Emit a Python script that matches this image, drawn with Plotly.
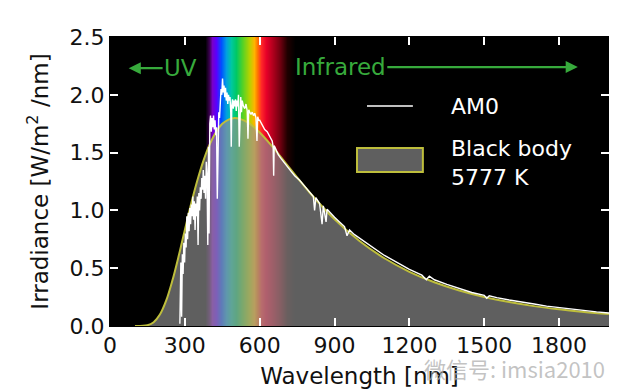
import plotly.graph_objects as go

# ---------------- data ----------------
bb_nm = [100, 150, 175, 200, 225, 250, 275, 300, 325, 350, 375, 400, 425, 450, 475,
         500, 550, 600, 650, 700, 750, 800, 900, 1000, 1100, 1200, 1300, 1400, 1500,
         1600, 1700, 1800, 1900, 2000]
bb_irr = [0.0, 0.007, 0.033, 0.099, 0.219, 0.393, 0.603, 0.831, 1.055, 1.258, 1.433,
          1.573, 1.677, 1.749, 1.786, 1.80, 1.764, 1.674, 1.553, 1.42, 1.285, 1.155,
          0.923, 0.735, 0.586, 0.469, 0.378, 0.307, 0.251, 0.207, 0.172, 0.144, 0.121,
          0.103]

am0_nm = [280, 284, 287, 290, 293, 296, 299, 302, 305, 308, 311, 314, 317, 320, 323,
          326, 329, 332, 335, 338, 341, 344, 347, 350, 353, 356, 359, 362, 365, 368,
          371, 374, 377, 380, 383, 386, 389, 392, 395, 397, 400, 403, 406, 409, 412,
          415, 418, 421, 424, 427, 430, 433, 436, 439, 442, 445, 448, 451, 454, 457,
          460, 463, 466, 469, 472, 475, 478, 481, 484, 486, 488, 491, 494, 497, 500,
          503, 506, 509, 512, 515, 518, 521, 524, 527, 530, 535, 540, 545, 550, 553,
          556, 560, 565, 570, 575, 580, 585, 589, 592, 596, 600, 610, 620, 630, 640,
          650, 654, 656, 658, 665, 675, 685, 695, 705, 715, 725, 740, 760, 780, 800,
          815, 820, 825, 840, 850, 855, 866, 870, 890, 900, 920, 940, 950, 960, 980,
          1000, 1050, 1100, 1150, 1200, 1250, 1268, 1280, 1300, 1350, 1400, 1450,
          1500, 1510, 1520, 1550, 1600, 1650, 1700, 1750, 1800, 1850, 1900, 1950, 2000]
am0_irr = [0.02, 0.55, 0.08, 0.62, 0.45, 0.72, 0.55, 0.80, 0.68, 0.95, 0.75, 0.98,
           0.82, 1.02, 0.88, 1.05, 0.95, 1.12, 0.92, 1.08, 0.83, 1.06, 0.95, 1.12,
           0.70, 1.15, 1.00, 1.20, 1.10, 1.28, 1.18, 1.35, 1.15, 1.30, 1.10, 1.42,
           1.30, 0.70, 1.55, 0.80, 1.75, 1.82, 1.68, 1.80, 1.72, 1.82, 1.70, 1.78,
           1.65, 1.72, 1.10, 1.75, 1.85, 1.80, 1.98, 2.05, 2.00, 2.14, 2.02, 2.08,
           1.98, 2.06, 1.95, 2.02, 1.92, 2.00, 1.95, 1.98, 1.85, 1.55, 1.90, 1.96,
           1.88, 1.95, 1.90, 1.96, 1.86, 1.95, 1.90, 2.00, 1.55, 1.95, 1.98, 1.85,
           1.95, 1.90, 1.88, 1.92, 1.86, 1.62, 1.87, 1.85, 1.83, 1.85, 1.82, 1.84,
           1.80, 1.60, 1.81, 1.78, 1.78, 1.74, 1.70, 1.68, 1.64, 1.60, 1.55, 1.30,
           1.56, 1.52, 1.48, 1.45, 1.42, 1.39, 1.36, 1.34, 1.30, 1.26, 1.21, 1.16,
           1.12, 1.00, 1.11, 1.06, 0.88, 1.04, 0.90, 1.01, 0.96, 0.94, 0.90, 0.86,
           0.78, 0.83, 0.79, 0.76, 0.69, 0.61, 0.55, 0.49, 0.44, 0.40, 0.43, 0.40,
           0.36, 0.325, 0.29, 0.265, 0.24, 0.262, 0.245, 0.225, 0.205, 0.19, 0.172,
           0.158, 0.145, 0.133, 0.122, 0.112]

spectrum_nm = [380, 395, 410, 425, 445, 465, 485, 505, 530, 555, 575, 590, 605, 625,
               650, 680, 710, 740]
spectrum_colors = ["#000000", "#3c0050", "#7800c8", "#5a00ff", "#0050ff", "#00a0e0",
                   "#00c8a0", "#00c864", "#50d228", "#b4d200", "#ffb400", "#ff7800",
                   "#ff2828", "#e60028", "#b4001e", "#6e000f", "#1e0000", "#000000"]

x_ticks = [0, 300, 600, 900, 1200, 1500, 1800]
y_ticks = [0.0, 0.5, 1.0, 1.5, 2.0, 2.5]

GREEN = "rgb(55,170,60)"
BB_LINE = "rgb(190,190,60)"
BB_FILL = "rgba(146,146,146,0.65)"
FONT = "DejaVu Sans"

lo, hi = spectrum_nm[0], spectrum_nm[-1]
colorscale = [[(w - lo) / (hi - lo), c] for w, c in zip(spectrum_nm, spectrum_colors)]

fig = go.Figure()

fig.add_trace(go.Heatmap(
    x=spectrum_nm, y=[0, 2.5], z=[spectrum_nm, spectrum_nm],
    colorscale=colorscale, zmin=lo, zmax=hi, showscale=False,
    zsmooth="best", hoverinfo="skip"))

fig.add_trace(go.Scatter(
    x=bb_nm, y=bb_irr, mode="lines", line=dict(color=BB_LINE, width=2, shape="spline"),
    fill="tozeroy", fillcolor=BB_FILL, name="Black body 5777 K", showlegend=False))

fig.add_trace(go.Scatter(
    x=am0_nm, y=am0_irr, mode="lines", line=dict(color="white", width=1.4),
    name="AM0", showlegend=False))

# UV / Infrared arrows
fig.add_annotation(x=75, y=2.23, ax=283, ay=2.23, xref="x", yref="y", axref="x", ayref="y",
                   text="UV", showarrow=True, arrowhead=2, arrowsize=1.1, arrowwidth=2.2,
                   arrowcolor=GREEN, font=dict(family=FONT, size=23, color=GREEN))
fig.add_annotation(x=1875, y=2.24, ax=923, ay=2.24, xref="x", yref="y", axref="x", ayref="y",
                   text="Infrared", showarrow=True, arrowhead=2, arrowsize=1.1, arrowwidth=2.2,
                   arrowcolor=GREEN, font=dict(family=FONT, size=23, color=GREEN))

# legend drawn by hand (matplotlib style)
fig.add_shape(type="line", xref="paper", yref="paper", x0=0.515, x1=0.607, y0=0.761, y1=0.761,
              line=dict(color="white", width=1.5))
fig.add_shape(type="rect", xref="paper", yref="paper", x0=0.495, x1=0.627, y0=0.533, y1=0.616,
              line=dict(color=BB_LINE, width=2), fillcolor=BB_FILL)
fig.add_annotation(x=0.679, y=0.758, xref="paper", yref="paper", text="AM0", showarrow=False,
                   xanchor="left", yanchor="middle", font=dict(family=FONT, size=22, color="white"))
fig.add_annotation(x=0.679, y=0.565, xref="paper", yref="paper", text="Black body<br>5777 K",
                   showarrow=False, xanchor="left", yanchor="middle", align="left",
                   font=dict(family=FONT, size=22, color="white"))

# watermark
fig.add_annotation(x=0.996, y=-0.145, xref="paper", yref="paper", text="微信号: imsia2010",
                   showarrow=False, xanchor="right", yanchor="middle",
                   font=dict(family="Noto Sans CJK SC", size=22, color="rgba(175,175,175,0.75)"))

axis_common = dict(ticks="inside", ticklen=8, tickwidth=1.5, tickcolor="white",
                   showline=True, linecolor="black", linewidth=1, mirror="ticks",
                   showgrid=False, zeroline=False,
                   tickfont=dict(family=FONT, size=22, color="#111111"))

fig.update_xaxes(range=[0, 2000], tickvals=x_ticks, ticktext=[str(v) for v in x_ticks],
                 title=dict(text="Wavelength [nm]", standoff=18,
                            font=dict(family=FONT, size=23, color="#111111")),
                 automargin=False, **axis_common)
fig.update_yaxes(range=[0, 2.5], tickvals=y_ticks, ticktext=[f"{v:.1f}" for v in y_ticks],
                 title=dict(text="Irradiance [W/m<sup>2</sup> /nm]", standoff=14,
                            font=dict(family=FONT, size=23, color="#111111")),
                 automargin=False, **axis_common)

# page body has an 8px margin; size the figure so the plot lands where the reference has it
fig.update_layout(width=609, height=381, margin=dict(l=102, r=8, t=29, b=63),
                  plot_bgcolor="black", paper_bgcolor="white", showlegend=False)

fig.write_html("out.html")
